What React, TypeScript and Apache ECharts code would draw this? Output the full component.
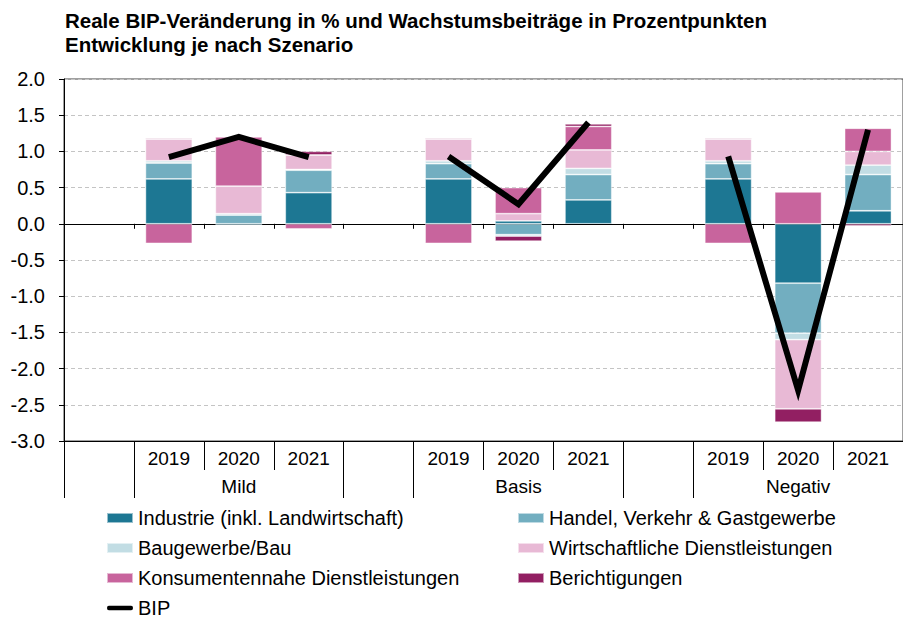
import React, { useEffect, useRef } from "react";
import * as echarts from "echarts";

const categories = ["", "2019", "2020", "2021", "", "2019", "2020", "2021", "", "2019", "2020", "2021"];
const groupLabels = ["", "", "Mild", "", "", "", "Basis", "", "", "", "Negativ", ""];
const groupBoundaryIdx = [0, 1, 4, 5, 8, 9];

const industrie = [null, 0.62, -0.02, 0.43, null, 0.62, 0.04, 0.33, null, 0.62, -0.82, 0.18];
const handel = [null, 0.22, 0.12, 0.31, null, 0.21, -0.15, 0.35, null, 0.21, -0.69, 0.5];
const bau = [null, 0.03, 0.02, 0.01, null, 0.04, -0.02, 0.085, null, 0.04, -0.09, 0.13];
const wirtschaft = [null, 0.3, 0.38, 0.2, null, 0.3, 0.1, 0.255, null, 0.3, -0.955, 0.19];
const konsum = [null, -0.27, 0.68, -0.07, null, -0.27, 0.36, 0.325, null, -0.27, 0.44, 0.32];
const berichtigung = [null, 0.015, null, 0.05, null, 0.015, -0.07, 0.035, null, 0.015, -0.185, -0.03];
const bip = [null, 0.92, 1.2, 0.92, null, 0.93, 0.27, 1.4, null, 0.93, -2.3, 1.3];

const FONT = "'Liberation Sans', Arial, sans-serif";

export default function App() {
  const ref = useRef<HTMLDivElement>(null);
  useEffect(() => {
    if (!ref.current) return;
    const chart = echarts.init(ref.current, null, { renderer: "svg" });
    const bar = (name: string, data: (number | null)[], color: string) => ({
      name,
      type: "bar",
      stack: "total",
      xAxisIndex: 1,
      barWidth: "67%",
      data,
      itemStyle: { color, borderColor: "rgba(255,255,255,0.55)", borderWidth: 0.8 },
      emphasis: { disabled: true },
    });
    const legendText = { fontFamily: FONT, fontSize: 20, color: "#000" };
    chart.setOption({
      animation: false,
      title: {
        text: "Reale BIP-Veränderung in % und Wachstumsbeiträge in Prozentpunkten\nEntwicklung je nach Szenario",
        left: 65,
        top: 8,
        padding: 0,
        textStyle: { fontFamily: FONT, fontSize: 20.5, fontWeight: "bold", color: "#000", lineHeight: 24 },
      },
      grid: {
        left: 64,
        right: -8,
        top: 79,
        bottom: 178,
        show: true,
        borderColor: "#404040",
        borderWidth: 1,
        backgroundColor: "transparent",
      },
      legend: [
        {
          orient: "vertical",
          left: 106,
          top: 508,
          height: 140,
          padding: 0,
          itemWidth: 26,
          itemHeight: 10,
          itemGap: 10,
          icon: "rect",
          textStyle: legendText,
          data: [
            { name: "Industrie (inkl. Landwirtschaft)", icon: "rect" },
            { name: "Baugewerbe/Bau", icon: "rect" },
            { name: "Konsumentennahe Dienstleistungen", icon: "rect" },
            { name: "BIP", icon: "path://M2,0 L26,0 Q28,0 28,2.5 Q28,5 26,5 L2,5 Q0,5 0,2.5 Q0,0 2,0 Z", itemStyle: { color: "#000" } },
          ],
        },
        {
          orient: "vertical",
          left: 517,
          top: 508,
          height: 140,
          padding: 0,
          itemWidth: 26,
          itemHeight: 10,
          itemGap: 10,
          icon: "rect",
          textStyle: legendText,
          data: ["Handel, Verkehr & Gastgewerbe", "Wirtschaftliche Dienstleistungen", "Berichtigungen"],
        },
      ],
      xAxis: [
        {
          type: "category",
          data: categories,
          position: "bottom",
          axisLine: { onZero: true, lineStyle: { color: "#000", width: 1 } },
          axisTick: { show: true, length: 5, lineStyle: { color: "#000" } },
          axisLabel: { show: false },
          splitLine: { show: false },
        },
        {
          type: "category",
          data: categories,
          position: "bottom",
          axisLine: { onZero: false, lineStyle: { color: "#000", width: 1 } },
          axisTick: { show: true, length: 29, lineStyle: { color: "#000" } },
          axisLabel: { interval: 0, margin: 8, fontFamily: FONT, fontSize: 19, color: "#000" },
          splitLine: { show: false },
        },
        {
          type: "category",
          data: groupLabels,
          position: "bottom",
          offset: 29,
          axisLine: { show: false, onZero: false },
          axisTick: {
            show: true,
            length: 28,
            interval: (idx: number) => groupBoundaryIdx.indexOf(idx) >= 0,
            lineStyle: { color: "#000" },
          },
          axisLabel: { interval: 0, margin: 7, fontFamily: FONT, fontSize: 19, color: "#000" },
          splitLine: { show: false },
        },
      ],
      yAxis: {
        type: "value",
        min: -3,
        max: 2,
        interval: 0.5,
        axisLine: { show: true, lineStyle: { color: "#000", width: 1 } },
        axisTick: { show: true, length: 5, lineStyle: { color: "#000" } },
        axisLabel: {
          margin: 19,
          fontFamily: FONT,
          fontSize: 20,
          color: "#000",
          formatter: (v: number) => v.toFixed(1),
        },
        splitLine: { show: true, lineStyle: { color: "#c4c4c4", type: [4, 3], width: 1 } },
      },
      series: [
        bar("Industrie (inkl. Landwirtschaft)", industrie, "#1d7793"),
        bar("Handel, Verkehr & Gastgewerbe", handel, "#72aec0"),
        bar("Baugewerbe/Bau", bau, "#c2dde4"),
        bar("Wirtschaftliche Dienstleistungen", wirtschaft, "#e8b9d5"),
        bar("Konsumentennahe Dienstleistungen", konsum, "#c8649d"),
        bar("Berichtigungen", berichtigung, "#921f62"),
        {
          name: "BIP",
          type: "line",
          xAxisIndex: 1,
          data: bip,
          connectNulls: false,
          symbol: "none",
          z: 5,
          itemStyle: { color: "#000" },
          lineStyle: { color: "#000", width: 6, join: "miter", cap: "butt" },
          emphasis: { disabled: true },
        },
      ],
    });
    return () => chart.dispose();
  }, []);
  return (
    <div
      ref={ref}
      style={{ position: "absolute", left: 0, top: 0, width: 903, height: 619, background: "#fff" }}
    />
  );
}
